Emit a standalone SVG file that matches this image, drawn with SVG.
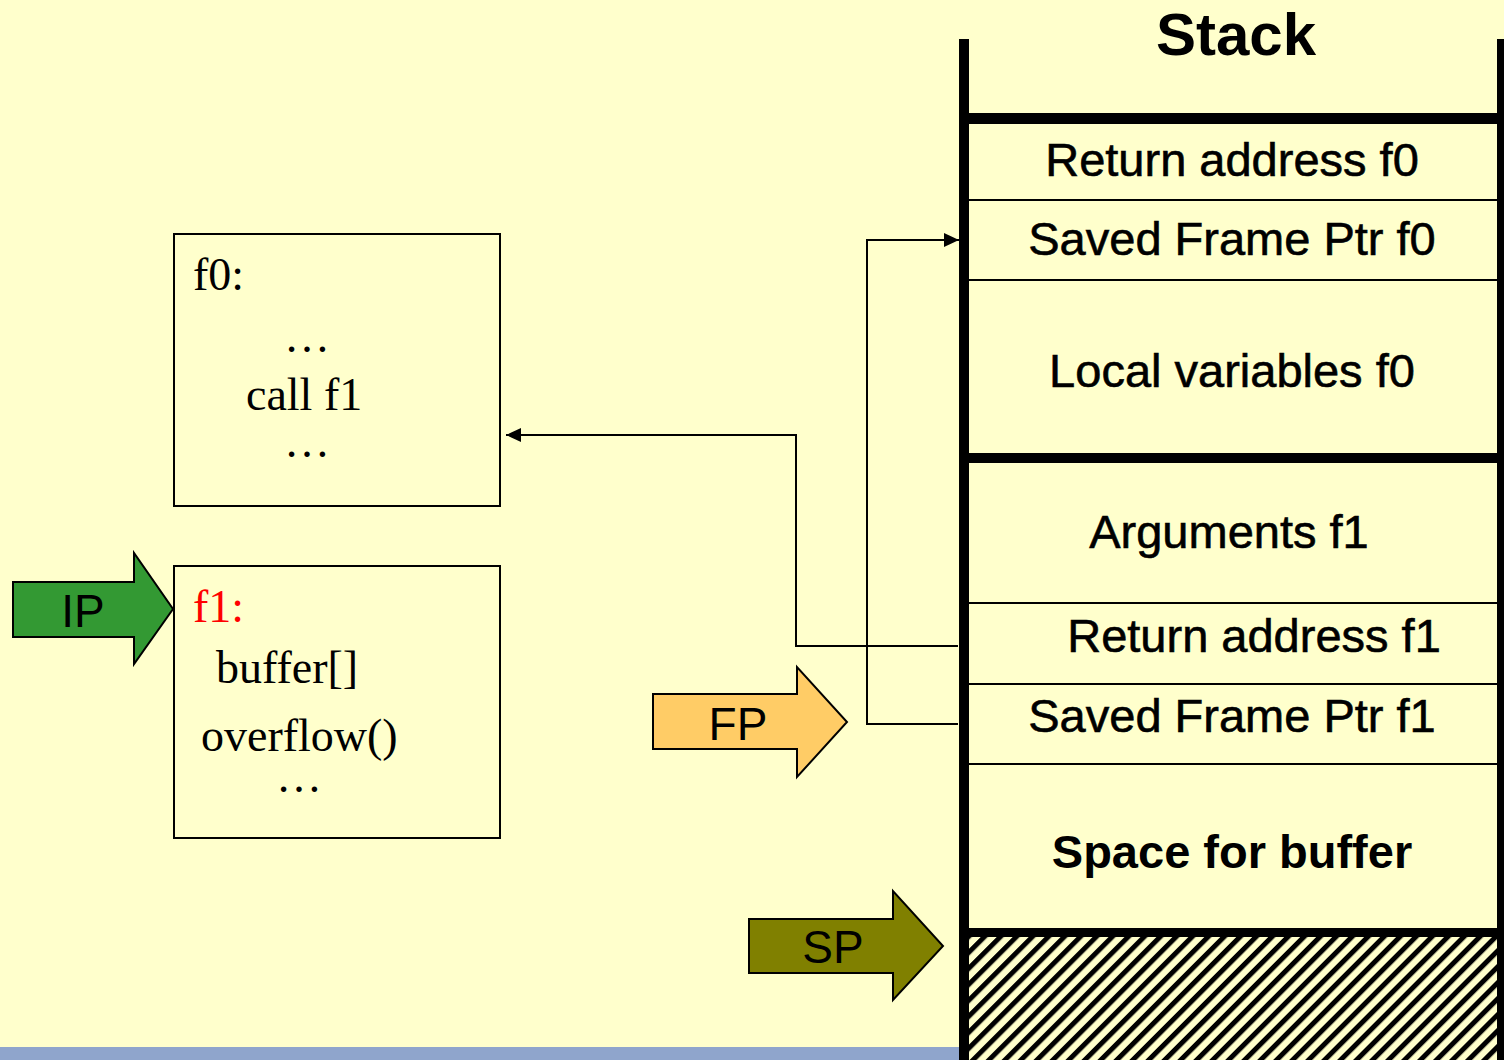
<svg xmlns="http://www.w3.org/2000/svg" width="1504" height="1060" viewBox="0 0 1504 1060">
  <style>
    .sans { font-family: "Liberation Sans", Arial, sans-serif; fill: #000; }
    .serif { font-family: "Liberation Serif", "Times New Roman", serif; fill: #000; font-size: 46px; }
    .cell { font-size: 47px; text-anchor: middle; stroke: #000; stroke-width: 0.6; }
    .box { fill: none; stroke: #000; stroke-width: 2; }
    .thin { stroke: #000; stroke-width: 2; }
    .wall { fill: #000; }
    .conn { fill: none; stroke: #000; stroke-width: 2; }
    .ptr { stroke: #000; stroke-width: 2; stroke-linejoin: miter; }
    .ptrlabel { font-size: 46px; text-anchor: middle; }
  </style>
  <defs>
    <marker id="arrow" markerUnits="userSpaceOnUse" markerWidth="16" markerHeight="14" refX="15" refY="7" orient="auto">
      <path d="M0,0 L15,7 L0,14 z" fill="#000"/>
    </marker>
    <pattern id="hatch" patternUnits="userSpaceOnUse" width="11.3" height="11.3" patternTransform="rotate(45)">
      <rect x="0" y="0" width="11.3" height="11.3" fill="#FFFFCC"/>
      <rect x="0" y="0" width="5" height="11.3" fill="#000"/>
    </pattern>
  </defs>

  <rect x="0" y="0" width="1504" height="1060" fill="#FFFFCC"/>
  <rect x="0" y="1047" width="960" height="13" fill="#8FA5CC"/>

  <g id="stack">
    <text class="sans" x="1236" y="55" font-size="60" font-weight="bold" text-anchor="middle">Stack</text>
    <rect x="969" y="937" width="528" height="123" fill="url(#hatch)"/>
    <rect class="wall" x="959" y="39" width="10" height="1021"/>
    <rect class="wall" x="1497" y="39" width="10" height="1021"/>
    <rect class="wall" x="969" y="113" width="528" height="11"/>
    <rect class="wall" x="969" y="453" width="528" height="10"/>
    <rect class="wall" x="969" y="928" width="528" height="9"/>
    <line class="thin" x1="969" y1="200" x2="1497" y2="200"/>
    <line class="thin" x1="969" y1="280" x2="1497" y2="280"/>
    <line class="thin" x1="969" y1="603" x2="1497" y2="603"/>
    <line class="thin" x1="969" y1="684" x2="1497" y2="684"/>
    <line class="thin" x1="969" y1="764" x2="1497" y2="764"/>
  </g>
  <g id="cell-ret-f0"><text class="sans cell" x="1232" y="176">Return address f0</text></g>
  <g id="cell-sfp-f0"><text class="sans cell" x="1232" y="255">Saved Frame Ptr f0</text></g>
  <g id="cell-locals-f0"><text class="sans cell" x="1232" y="387">Local variables f0</text></g>
  <g id="cell-args-f1"><text class="sans cell" x="1229" y="548">Arguments f1</text></g>
  <g id="cell-ret-f1"><text class="sans cell" x="1254" y="652">Return address f1</text></g>
  <g id="cell-sfp-f1"><text class="sans cell" x="1232" y="732">Saved Frame Ptr f1</text></g>
  <g id="cell-buffer"><text class="sans cell" x="1232" y="868" font-weight="bold" style="stroke-width:0">Space for buffer</text></g>

  <g id="f0-box">
    <rect class="box" x="174" y="234" width="326" height="272"/>
    <text class="serif" x="193" y="290">f0:</text>
    <text class="serif" x="307" y="352" text-anchor="middle">…</text>
    <text class="serif" x="246" y="410">call f1</text>
    <text class="serif" x="307" y="457" text-anchor="middle">…</text>
  </g>
  <g id="f1-box">
    <rect class="box" x="174" y="566" width="326" height="272"/>
    <text class="serif" x="193" y="622" style="fill:#FF0000">f1:</text>
    <text class="serif" x="216" y="683">buffer[]</text>
    <text class="serif" x="201" y="751">overflow()</text>
    <text class="serif" x="299" y="792" text-anchor="middle">…</text>
  </g>

  <g id="ip-pointer">
    <polygon class="ptr" points="13,582 134,582 134,553 173,609 134,664 134,637 13,637" fill="#339933"/>
    <text class="sans ptrlabel" x="83" y="627" font-size="47">IP</text>
  </g>
  <g id="fp-pointer">
    <polygon class="ptr" points="653,694 797,694 797,667 847,722 797,777 797,749 653,749" fill="#FFCC66"/>
    <text class="sans ptrlabel" x="738" y="740">FP</text>
  </g>
  <g id="sp-pointer">
    <polygon class="ptr" points="749,919 893,919 893,891 943,946 893,1000 893,973 749,973" fill="#808000"/>
    <text class="sans ptrlabel" x="833" y="963">SP</text>
  </g>

  <g id="connectors">
    <polyline class="conn" points="958,646 796,646 796,435 506,435" marker-end="url(#arrow)"/>
    <polyline class="conn" points="958,724 867,724 867,240 959,240" marker-end="url(#arrow)"/>
  </g>
</svg>
